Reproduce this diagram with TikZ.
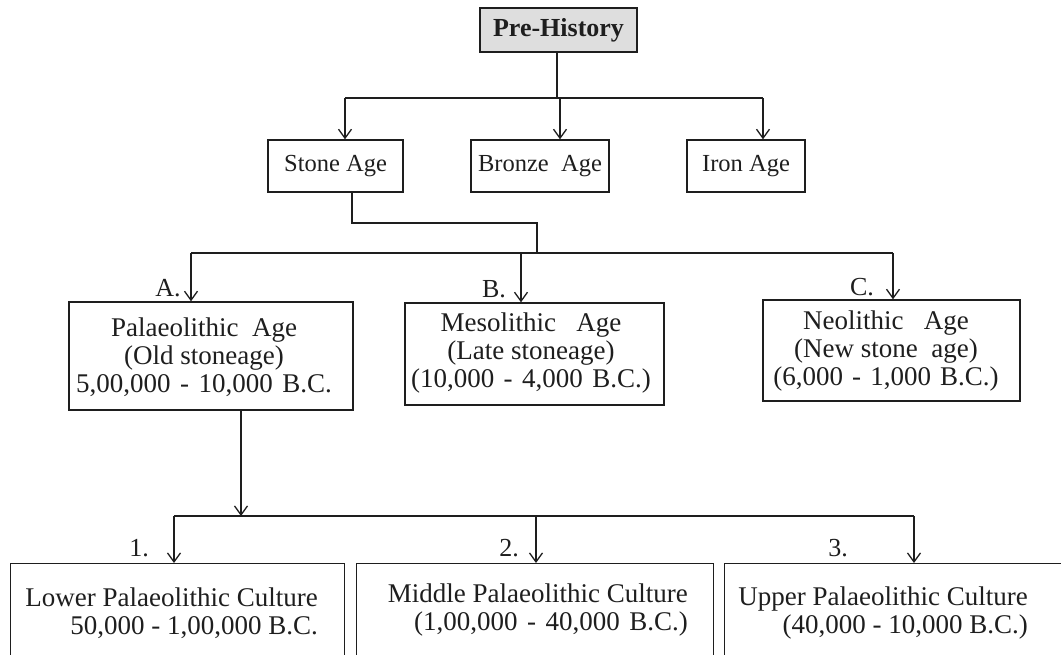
\documentclass[tikz,border=0pt]{standalone}
\usepackage{fontspec}
\setmainfont{Liberation Serif}
\usetikzlibrary{arrows.meta}
\definecolor{ink}{HTML}{1E1E1E}
\definecolor{headfill}{HTML}{DEDEDE}
\newcommand{\widesp}[2]{{\spaceskip=#1\fontdimen2\font\relax #2}}
\begin{document}
\begin{tikzpicture}[x=1pt,y=-1pt,
  every node/.style={font=\fontsize{26}{28}\selectfont, text=ink},
  box/.style={draw=ink, line width=1.4pt, inner sep=0pt},
  agebox/.style={box, minimum height=52, font=\fontsize{24.5}{28}\selectfont},
  txt/.style={inner sep=0pt, align=center, font=\fontsize{27}{28}\selectfont},
  conn/.style={draw=ink, line width=1.4pt},
  arr/.style={conn, -{Straight Barb[length=9pt,width=13pt,line width=1.3pt]}},
  tag/.style={inner sep=0pt}]
\useasboundingbox (0,0) rectangle (1061,654);
\clip (0,0) rectangle (1061,654);

% top node
\node[box, fill=headfill, minimum width=157, minimum height=44,
      font=\fontsize{26}{28}\selectfont\bfseries] (pre) at (558.5,30) {Pre-History};

% second row
\node[agebox, minimum width=135] (stone)  at (335.5,166) {Stone Age};
\node[agebox, minimum width=138] (bronze) at (540,166)   {Bronze\ \ Age};
\node[agebox, minimum width=118] (iron)   at (746,166)   {Iron Age};

% third row
\node[box, minimum width=284, minimum height=108] (palaeo) at (211,356) {};
\node[txt] (palaeot) at (204,357) {Palaeolithic\ \ Age\\(Old stoneage)\\\widesp{1.4}{5,00,000 - 10,000 B.C.}};
\node[box, minimum width=259, minimum height=102] (meso) at (534.5,354) {};
\node[txt] (mesot) at (531,353) {Mesolithic\ \ \ Age\\(Late stoneage)\\\widesp{1.4}{(10,000 - 4,000 B.C.)}};
\node[box, minimum width=257, minimum height=101] (neo) at (891.5,350.5) {};
\node[txt] (neot) at (886,351) {Neolithic\ \ \ Age\\(New stone\ \ age)\\\widesp{1.35}{(6,000 - 1,000 B.C.)}};

% bottom row (boxes run past the lower edge)
\node[box, anchor=north west, minimum width=334, minimum height=120] (lower)  at (10,563)  {};
\node[txt, align=right, anchor=east] (lowert) at (318,613) {Lower Palaeolithic Culture\\50,000 - 1,00,000 B.C.};
\node[box, anchor=north west, minimum width=357, minimum height=120] (middle) at (356,563) {};
\node[txt, align=right, anchor=east] (middlet) at (688,610) {Middle Palaeolithic Culture\\\widesp{1.4}{(1,00,000 - 40,000 B.C.)}};
\node[box, anchor=north west, minimum width=360, minimum height=120] (upper)  at (724,563) {};
\node[txt, align=right, anchor=east] (uppert) at (1028,613) {Upper Palaeolithic Culture\\(40,000 - 10,000 B.C.)};

% branch labels
\node[tag] (la) at (168,288) {A.};
\node[tag] (lb) at (494,289) {B.};
\node[tag] (lc) at (862,287) {C.};
\node[tag] (l1) at (139,548) {1.};
\node[tag] (l2) at (509,548) {2.};
\node[tag] (l3) at (838,548) {3.};

% junction points
\coordinate (j1)  at (557,98);
\coordinate (b1l) at (345,98);
\coordinate (b1m) at (560,98);
\coordinate (b1r) at (763,98);
\coordinate (s1)  at (352,223);
\coordinate (s2)  at (537,253);
\coordinate (b2l) at (191,253);
\coordinate (b2m) at (521,253);
\coordinate (b2r) at (893,253);
\coordinate (p1)  at (241,516);
\coordinate (b3l) at (174,516);
\coordinate (b3m) at (536,516);
\coordinate (b3r) at (914,516);

% Pre-History to the three ages
\draw[conn] (pre.south -| j1) -- (j1);
\draw[conn] (b1l) -- (b1r);
\draw[arr] (b1l) -- (stone.north -| b1l);
\draw[arr] (b1m) -- (bronze.north -| b1m);
\draw[arr] (b1r) -- (iron.north -| b1r);

% Stone Age to its three periods
\draw[conn] (stone.south -| s1) -- (s1) -| (s2);
\draw[conn] (b2l) -- (b2r);
\draw[arr] (b2l) -- (palaeo.north -| b2l);
\draw[arr] (b2m) -- (meso.north -| b2m);
\draw[arr] (b2r) -- (neo.north -| b2r);

% Palaeolithic Age to its cultures
\draw[arr] (palaeo.south -| p1) -- (p1);
\draw[conn] (b3l) -- (b3r);
\draw[arr] (b3l) -- (lower.north -| b3l);
\draw[arr] (b3m) -- (middle.north -| b3m);
\draw[arr] (b3r) -- (upper.north -| b3r);
\end{tikzpicture}
\end{document}
